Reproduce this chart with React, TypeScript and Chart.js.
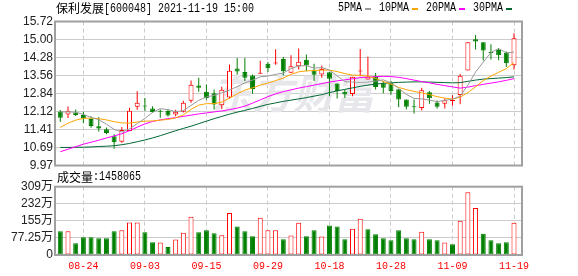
import React, { useEffect, useRef } from "react";
import { Chart, registerables } from "chart.js";

Chart.register(...registerables);

// ---------- data ----------
const stockName = "保利发展";
const stockCode = "600048";
const stamp = "2021-11-19 15:00";

const dates = [
  "08-19", "08-20", "08-23", "08-24", "08-25", "08-26", "08-27", "08-30", "08-31", "09-01",
  "09-02", "09-03", "09-06", "09-07", "09-08", "09-09", "09-10", "09-13", "09-14", "09-15",
  "09-16", "09-17", "09-22", "09-23", "09-24", "09-27", "09-28", "09-29", "09-30", "10-08",
  "10-11", "10-12", "10-13", "10-14", "10-15", "10-18", "10-19", "10-20", "10-21", "10-22",
  "10-25", "10-26", "10-27", "10-28", "10-29", "11-01", "11-02", "11-03", "11-04", "11-05",
  "11-08", "11-09", "11-10", "11-11", "11-12", "11-15", "11-16", "11-17", "11-18", "11-19",
];

const axisDates = ["08-24", "09-03", "09-15", "09-29", "10-18", "10-28", "11-09", "11-19"];

const openP = [
  12.13, 12.01, 12.09, 11.99, 11.83, 11.54, 11.42, 11.14, 10.92, 11.35,
  12.32, 12.35, 12.25, 12.15, 12.15, 12.01, 12.12, 12.56, 13.16, 12.91,
  12.85, 12.38, 12.69, 13.84, 13.70, 13.56, 13.63, 14.03, 14.04, 14.22,
  13.67, 13.93, 14.19, 13.77, 13.60, 13.69, 13.24, 12.91, 12.83, 13.72,
  13.40, 13.53, 13.24, 13.27, 13.01, 12.61, 12.33, 12.27, 12.89, 12.49,
  12.44, 12.55, 12.79, 13.76, 15.01, 14.89, 14.47, 14.58, 14.47, 13.97,
];
const highP = [
  12.19, 12.33, 12.21, 12.12, 11.94, 11.91, 11.49, 11.22, 11.51, 12.28,
  12.93, 12.67, 12.34, 12.21, 12.21, 12.20, 12.56, 13.36, 13.47, 13.20,
  13.00, 13.11, 14.00, 14.26, 14.26, 13.60, 14.15, 14.10, 14.61, 14.30,
  14.37, 14.64, 14.40, 14.03, 13.96, 13.69, 13.24, 13.00, 13.51, 14.62,
  14.31, 13.66, 13.34, 13.34, 13.01, 12.61, 12.61, 13.07, 12.94, 12.57,
  12.65, 12.78, 13.62, 14.89, 15.18, 14.89, 14.81, 14.66, 14.52, 15.25,
];
const lowP = [
  11.72, 11.87, 11.95, 11.67, 11.48, 11.33, 11.22, 10.64, 10.88, 11.35,
  12.20, 12.15, 12.08, 11.88, 11.93, 11.94, 12.09, 12.48, 12.91, 12.60,
  12.21, 12.23, 12.65, 13.60, 13.34, 12.84, 13.63, 13.70, 13.99, 13.56,
  13.67, 13.80, 13.73, 13.34, 13.47, 12.74, 12.65, 12.67, 12.74, 13.53,
  13.40, 13.00, 12.85, 12.80, 12.30, 12.21, 12.05, 12.17, 12.44, 12.25,
  12.25, 12.37, 12.42, 13.76, 14.60, 14.16, 14.20, 14.17, 13.90, 13.80,
];
const closeP = [
  11.88, 12.16, 11.99, 11.86, 11.55, 11.45, 11.27, 10.90, 11.39, 12.16,
  12.48, 12.33, 12.11, 12.12, 11.97, 12.12, 12.48, 13.19, 13.07, 12.67,
  12.41, 12.99, 13.75, 13.72, 13.47, 13.02, 13.65, 13.85, 14.06, 13.73,
  13.93, 14.11, 13.96, 13.59, 13.82, 13.43, 12.94, 12.81, 13.51, 13.74,
  13.52, 13.10, 13.07, 12.94, 12.61, 12.32, 12.30, 12.97, 12.66, 12.32,
  12.58, 12.57, 13.55, 14.89, 14.92, 14.56, 14.46, 14.37, 14.05, 15.05,
];
const PREV_CLOSE = 12.1;

const ma5 = [
  12.11, 12.11, 12.10, 12.01, 11.89, 11.80, 11.62, 11.41, 11.31, 11.43,
  11.64, 11.85, 12.09, 12.24, 12.20, 12.12, 12.16, 12.37, 12.57, 12.71,
  12.77, 12.87, 12.98, 13.12, 13.27, 13.38, 13.51, 13.54, 13.61, 13.66,
  13.84, 13.94, 13.96, 13.86, 13.88, 13.78, 13.55, 13.32, 13.30, 13.29,
  13.30, 13.34, 13.39, 13.27, 13.05, 12.81, 12.65, 12.63, 12.58, 12.52,
  12.57, 12.62, 12.74, 13.18, 13.70, 14.10, 14.48, 14.64, 14.47, 14.50,
];
const ma10 = [
  11.49, 11.66, 11.78, 11.85, 11.86, 11.84, 11.79, 11.72, 11.67, 11.66,
  11.71, 11.74, 11.75, 11.78, 11.81, 11.87, 11.99, 12.21, 12.38, 12.44,
  12.44, 12.50, 12.66, 12.83, 12.98, 13.07, 13.18, 13.26, 13.36, 13.46,
  13.61, 13.71, 13.75, 13.76, 13.78, 13.78, 13.72, 13.64, 13.58, 13.57,
  13.54, 13.45, 13.32, 13.22, 13.09, 13.00, 12.93, 12.87, 12.80, 12.72,
  12.66, 12.62, 12.70, 12.88, 13.11, 13.36, 13.54, 13.69, 13.84, 14.08,
];
const ma20 = [
  10.52, 10.62, 10.72, 10.82, 10.90, 10.98, 11.07, 11.15, 11.24, 11.36,
  11.50, 11.63, 11.73, 11.79, 11.84, 11.88, 11.93, 11.98, 12.03, 12.07,
  12.11, 12.15, 12.20, 12.26, 12.34, 12.46, 12.59, 12.72, 12.83, 12.92,
  12.99, 13.06, 13.12, 13.18, 13.24, 13.30, 13.35, 13.39, 13.43, 13.48,
  13.50, 13.52, 13.53, 13.52, 13.49, 13.44, 13.38, 13.32, 13.27, 13.21,
  13.16, 13.11, 13.06, 13.10, 13.16, 13.21, 13.26, 13.31, 13.37, 13.44,
];
const ma30 = [
  10.69, 10.69, 10.70, 10.70, 10.71, 10.73, 10.74, 10.76, 10.80, 10.85,
  10.92, 10.99, 11.07, 11.16, 11.26, 11.36, 11.45, 11.54, 11.64, 11.74,
  11.84, 11.93, 12.02, 12.10, 12.17, 12.25, 12.33, 12.41, 12.47, 12.53,
  12.58, 12.63, 12.68, 12.74, 12.80, 12.88, 12.95, 13.01, 13.07, 13.13,
  13.18, 13.22, 13.25, 13.27, 13.29, 13.30, 13.31, 13.31, 13.30, 13.29,
  13.28, 13.27, 13.28, 13.33, 13.38, 13.42, 13.44, 13.46, 13.48, 13.51,
];

// volume in 万 (10k shares)
const volumes = [
  107.2, 107.2, 53.6, 80.3, 80.3, 75.9, 75.9, 107.2, 111.6, 147.3,
  147.3, 102.7, 58.0, 56.6, 35.7, 70.0, 101.2, 172.6, 102.7, 111.6,
  98.2, 89.3, 190.5, 129.5, 107.2, 84.9, 168.2, 111.6, 111.6, 71.5,
  87.8, 145.9, 84.9, 111.6, 83.3, 133.9, 129.5, 71.5, 119.0, 163.7,
  116.1, 93.8, 75.9, 67.0, 111.6, 75.9, 71.5, 105.7, 71.5, 67.0,
  56.6, 49.2, 154.8, 284.3, 212.8, 96.7, 67.0, 53.6, 58.0, 145.8065,
];

const priceTicks = [9.97, 10.69, 11.41, 12.12, 12.84, 13.56, 14.28, 15.0, 15.72];
const priceTickLabels = ["9.97", "10.69", "11.41", "12.12", "12.84", "13.56", "14.28", "15.00", "15.72"];
const volTicks = [0, 77.25, 155, 232, 309];
const volTickLabels = ["0", "77.25万", "155万", "232万", "309万"];

const maNames = ["5PMA", "10PMA", "20PMA", "30PMA"];

// ---------- styles ----------
const RED = "#ff0000";
const GREEN = "#008000";
const MA_COLORS = ["#999999", "#ffa500", "#ff00ff", "#006633"];
const GRID = "#cccccc";
const FRAME = "#a0a0a0";
const MONO = '"Liberation Mono", "DejaVu Sans Mono", monospace';
const CJK = '"Noto Sans CJK SC", sans-serif';
const X_MIN = -0.69;
const X_MAX = 60.04;

const tickIdx = axisDates.map((d) => dates.indexOf(d));
const isUp = (i: number) => closeP[i] >= openP[i];
const volUp = (i: number) => closeP[i] >= (i === 0 ? PREV_CLOSE : closeP[i - 1]);

function drawMono(ctx: CanvasRenderingContext2D, text: string, x: number, y: number, color = "#000") {
  ctx.font = `12px ${MONO}`;
  ctx.fillStyle = color;
  ctx.textAlign = "left";
  ctx.textBaseline = "middle";
  ctx.fillText(text, x, y, text.length * 6);
  return x + text.length * 6;
}
function drawCjk(ctx: CanvasRenderingContext2D, text: string, x: number, y: number, color = "#000") {
  ctx.font = `12px ${CJK}`;
  ctx.fillStyle = color;
  ctx.textAlign = "left";
  ctx.textBaseline = "middle";
  ctx.fillText(text, x, y);
  return x + text.length * 12;
}

const framePlugin = {
  id: "frame",
  afterDraw(chart: any) {
    const { ctx, chartArea: a } = chart;
    ctx.save();
    ctx.strokeStyle = FRAME;
    ctx.lineWidth = 2;
    ctx.strokeRect(a.left, a.top, a.right - a.left, a.bottom - a.top);
    ctx.restore();
  },
};

const pricePlugin = {
  id: "priceDecor",
  beforeDatasetsDraw(chart: any) {
    const { ctx } = chart;
    ctx.save();
    ctx.font = `italic bold 41px ${CJK}`;
    ctx.fillStyle = "#e7e7eb";
    ctx.textAlign = "center";
    ctx.textBaseline = "middle";
    ctx.fillText("东方财富", 293, 93);
    ctx.restore();
  },
  afterDraw(chart: any) {
    const { ctx } = chart;
    ctx.save();
    let x = drawCjk(ctx, stockName, 56, 8.5);
    drawMono(ctx, `[${stockCode}] ${stamp}`, x, 8.5);
    let lx = 338;
    maNames.forEach((n, k) => {
      const end = drawMono(ctx, n, lx, 8);
      ctx.fillStyle = MA_COLORS[k];
      ctx.fillRect(end + 3, 8, 6, 2);
      lx = end + 3 + 6 + 8;
    });
    ctx.restore();
  },
};

const volPlugin = {
  id: "volDecor",
  afterDraw(chart: any) {
    const { ctx } = chart;
    ctx.save();
    const x = drawCjk(ctx, "成交量", 57, 177);
    drawMono(ctx, ":" + Math.round(volumes[volumes.length - 1] * 10000), x, 177);
    ctx.restore();
  },
};

function makeOptions(padTop: number, padBottom: number, yMin: number, yMax: number, yTicks: number[], yLabels: string[], showX: boolean): any {
  return {
    responsive: false,
    maintainAspectRatio: false,
    animation: false,
    events: [],
    devicePixelRatio: 1,
    layout: { padding: { left: 0, right: 56, top: padTop, bottom: padBottom } },
    plugins: { legend: { display: false }, tooltip: { enabled: false } },
    scales: {
      x: {
        type: "linear",
        min: X_MIN,
        max: X_MAX,
        offset: false,
        afterBuildTicks: (s: any) => {
          s.ticks = tickIdx.map((v) => ({ value: v }));
        },
        afterFit: (s: any) => {
          s.height = showX ? 21 : 0;
        },
        grid: { color: GRID, drawTicks: false, offset: false, lineWidth: 1 },
        border: { display: false, dash: [4, 3] },
        ticks: {
          display: showX,
          autoSkip: false,
          maxRotation: 0,
          minRotation: 0,
          padding: 5,
          color: RED,
          font: { family: MONO, size: 10 },
          callback: (v: number) => dates[v] ?? "",
        },
      },
      y: {
        type: "linear",
        min: yMin,
        max: yMax,
        afterBuildTicks: (s: any) => {
          s.ticks = yTicks.map((v) => ({ value: v }));
        },
        afterFit: (s: any) => {
          s.width = 55;
        },
        grid: { color: GRID, drawTicks: false, lineWidth: 1 },
        border: { display: false },
        ticks: {
          padding: 2,
          autoSkip: false,
          color: "#222222",
          font: { family: '"Liberation Sans", "Noto Sans CJK SC", sans-serif', size: 12 },
          callback: (v: number) => yLabels[yTicks.indexOf(v)] ?? "",
        },
      },
    },
  };
}

export default function App() {
  const priceRef = useRef<HTMLCanvasElement>(null);
  const volRef = useRef<HTMLCanvasElement>(null);

  useEffect(() => {
    const maSeries = [ma5, ma10, ma20, ma30];
    const priceChart = new Chart(priceRef.current as HTMLCanvasElement, {
      type: "bar",
      data: {
        datasets: [
          ...maSeries.map((arr, k) => ({
            type: "line" as const,
            data: arr.map((v, i) => ({ x: i, y: v })),
            borderColor: MA_COLORS[k],
            borderWidth: 1,
            pointRadius: 0,
            tension: 0,
            fill: false,
            order: 0,
          })),
          {
            type: "bar" as const,
            data: dates.map((_, i) => ({ x: i, y: [openP[i], closeP[i]] })),
            backgroundColor: dates.map((_, i) => (isUp(i) ? "#ffffff" : GREEN)),
            borderColor: dates.map((_, i) => (isUp(i) ? RED : GREEN)),
            borderWidth: 1,
            borderSkipped: false,
            barThickness: 5,
            minBarLength: 1,
            grouped: false,
            inflateAmount: 0,
            order: 1,
          },
          {
            type: "bar" as const,
            data: dates.map((_, i) => ({ x: i, y: [lowP[i], highP[i]] })),
            backgroundColor: dates.map((_, i) => (isUp(i) ? RED : GREEN)),
            borderWidth: 0,
            barThickness: 1,
            grouped: false,
            inflateAmount: 0,
            order: 2,
          },
        ] as any,
      },
      options: makeOptions(21.5, 110.5, 9.97, 15.72, priceTicks, priceTickLabels, false),
      plugins: [pricePlugin, framePlugin],
    });

    const volChart = new Chart(volRef.current as HTMLCanvasElement, {
      type: "bar",
      data: {
        datasets: [
          {
            data: volumes.map((v, i) => ({ x: i, y: v })),
            backgroundColor: dates.map((_, i) => (volUp(i) ? "#ffffff" : GREEN)),
            borderColor: dates.map((_, i) => (volUp(i) ? RED : GREEN)),
            borderWidth: 1,
            borderSkipped: false,
            barThickness: 5,
            grouped: false,
            inflateAmount: 0,
          },
        ] as any,
      },
      options: makeOptions(186.7, 0, 0, 309, volTicks, volTickLabels, true),
      plugins: [volPlugin, framePlugin],
    });

    return () => {
      priceChart.destroy();
      volChart.destroy();
    };
  }, []);

  return (
    <div style={{ position: "absolute", left: 0, top: 0, width: 578, height: 276, background: "#fff" }}>
      <canvas ref={priceRef} width={578} height={276} style={{ position: "absolute", left: 0, top: 0 }} />
      <canvas ref={volRef} width={578} height={276} style={{ position: "absolute", left: 0, top: 0 }} />
    </div>
  );
}
